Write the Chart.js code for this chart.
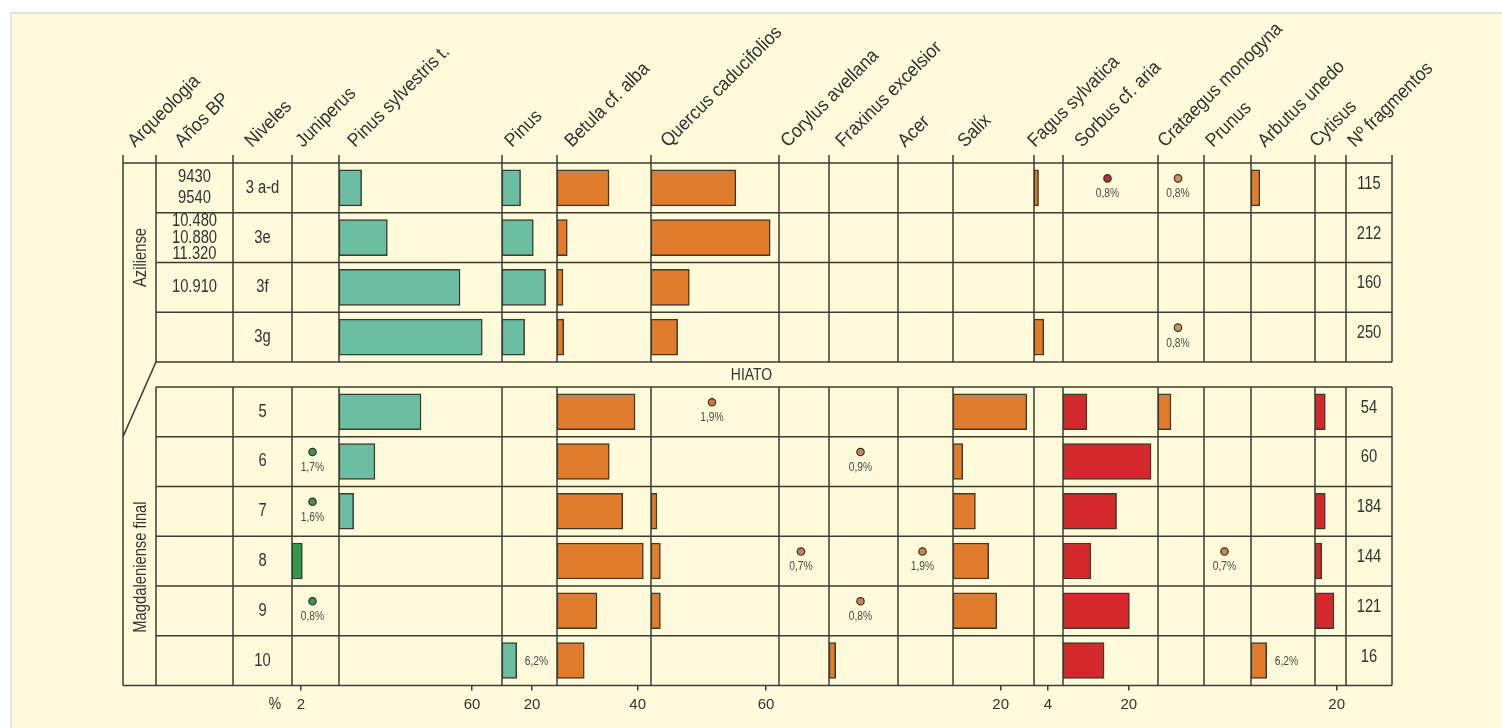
<!DOCTYPE html>
<html>
<head>
<meta charset="utf-8">
<script src="https://cdn.jsdelivr.net/npm/chart.js@4.4.0/dist/chart.umd.min.js"></script>
<style>
  html, body { margin: 0; padding: 0; background: #fff; }
  #wrap { position: relative; width: 1502px; height: 728px; overflow: hidden; }
  #paper { position: absolute; left: 10px; top: 12px; right: 0; bottom: 0; background: #fffad9;
           border-top: 2px solid #e3e3e3; border-left: 2px solid #e6e6e6; }
  canvas { position: absolute; left: 0; top: 0; }
</style>
</head>
<body>
<div id="wrap"><div id="paper"></div><canvas id="diagram" width="1502" height="728"></canvas></div>
<script>
// Levels (rows) and the text columns of the table
const levels = ['3 a-d', '3e', '3f', '3g', '5', '6', '7', '8', '9', '10'];
const agesBP = [['9430', '9540'], ['10.480', '10.880', '11.320'], ['10.910'], [], [], [], [], [], [], []];
const fragments = [115, 212, 160, 250, 54, 60, 184, 144, 121, 16];
const periods = ['Aziliense', 'Magdaleniense final'];
const periodLevels = [4, 6];   // number of levels in each period

// % of fragments per taxon (null = absent); *Trace = values shown as a dot
const juniperus       = [null, null, null, null, null, null, null, 2.3, null, null];
const juniperusTrace  = [null, null, null, null, null, 1.7, 1.6, null, 0.8, null];
const pinusSylvestris = [10.2, 21.8, 54.6, 64.6, 37.0, 16.2, 6.6, null, null, null];
const pinus           = [12.4, 20.9, 29.1, 15.1, null, null, null, null, null, 9.8];
const betula          = [25.8, 5.1, 3.0, 3.3, 38.7, 25.9, 32.6, 42.8, 19.8, 13.5];
const quercus         = [44.3, 62.2, 20.0, 13.9, null, null, 3.1, 4.9, 4.9, null];
const quercusTrace    = [null, null, null, null, 1.9, null, null, null, null, null];
const corylusTrace    = [null, null, null, null, null, null, null, 0.7, null, null];
const fraxinus        = [null, null, null, null, null, null, null, null, null, 6.2];
const fraxinusTrace   = [null, null, null, null, null, 0.9, null, null, 0.8, null];
const acerTrace       = [null, null, null, null, null, null, null, 1.9, null, null];
const salix           = [null, null, null, null, 31.0, 4.1, 9.4, 15.0, 18.4, null];
const fagus           = [1.3, null, null, 2.8, null, null, null, null, null, null];
const sorbus          = [null, null, null, null, 7.3, 26.8, 16.3, 8.5, 20.2, 12.5];
const sorbusTrace     = [0.8, null, null, null, null, null, null, null, null, null];
const crataegus       = [null, null, null, null, 3.7, null, null, null, null, null];
const crataegusTrace  = [0.8, null, null, 0.8, null, null, null, null, null, null];
const prunusTrace     = [null, null, null, null, null, null, null, 0.7, null, null];
const arbutus         = [3.5, null, null, null, null, null, null, null, null, 6.2];
const cytisus         = [null, null, null, null, 9.5, null, 9.5, 6.2, 17.5, null];
// values written beside a bar
const pinusNote   = [null, null, null, null, null, null, null, null, null, '6,2%'];
const arbutusNote = [null, null, null, null, null, null, null, null, null, '6,2%'];

// one tick label under each scaled column
const tickLabels = { jun: 2, psy: 60, pin: 20, bet: 40, que: 60, sal: 20, fag: 4, sor: 20, cyt: 20 };

// colours
const TEAL = '#6cbea2', GREEN = '#2f9a4e', ORANGE = '#e07c2b', RED = '#d3292c';
const LINE = '#3c3c38', TEXT = '#333333', EDGE = '#3f3a30';
const FONT = '"Liberation Sans", Arial, sans-serif';
const SQUEEZE = 0.82;

// table columns: width in px, header offset, axis range
const layout = [
  { id: 'arq',  head: 'Arqueologia',          w: 33,  dx: 12 },
  { id: 'bp',   head: 'Años BP',              w: 77,  dx: 26 },
  { id: 'niv',  head: 'Niveles',              w: 59,  dx: 19 },
  { id: 'jun',  head: 'Juniperus',            w: 47,  dx: 11, max: 10.45 },
  { id: 'psy',  head: 'Pinus sylvestris t.',  w: 163, dx: 16, max: 73.5 },
  { id: 'pin',  head: 'Pinus',                w: 55,  dx: 10, max: 36.7 },
  { id: 'bet',  head: 'Betula cf. alba',      w: 94,  dx: 15, max: 46.6 },
  { id: 'que',  head: 'Quercus caducifolios', w: 128, dx: 17, max: 66.8 },
  { id: 'cor',  head: 'Corylus avellana',     w: 50,  dx: 9,  max: 50 },
  { id: 'fra',  head: 'Fraxinus excelsior',   w: 69,  dx: 14, max: 64 },
  { id: 'ace',  head: 'Acer',                 w: 55,  dx: 7,  max: 50 },
  { id: 'sal',  head: 'Salix',                w: 81,  dx: 12, max: 34 },
  { id: 'fag',  head: 'Fagus sylvatica',      w: 29,  dx: 1,  max: 8.3 },
  { id: 'sor',  head: 'Sorbus cf. aria',      w: 95,  dx: 19, max: 28.9 },
  { id: 'cra',  head: 'Crataegus monogyna',   w: 46,  dx: 7,  max: 13.1 },
  { id: 'pru',  head: 'Prunus',               w: 47,  dx: 9,  max: 50 },
  { id: 'arb',  head: 'Arbutus unedo',        w: 64,  dx: 14, max: 25.3 },
  { id: 'cyt',  head: 'Cytisus',              w: 31,  dx: 2,  max: 28.6 },
  { id: 'frag', head: 'Nº fragmentos',        w: 46,  dx: 9 }
];

const taxa = [
  { col: 'jun', bars: juniperus, trace: juniperusTrace, color: GREEN, dot: '#3f8d5d' },
  { col: 'psy', bars: pinusSylvestris, color: TEAL },
  { col: 'pin', bars: pinus, note: pinusNote, color: TEAL },
  { col: 'bet', bars: betula, color: ORANGE },
  { col: 'que', bars: quercus, trace: quercusTrace, color: ORANGE, dot: '#c47a45' },
  { col: 'cor', trace: corylusTrace, dot: '#c98552' },
  { col: 'fra', bars: fraxinus, trace: fraxinusTrace, color: ORANGE, dot: '#c98552' },
  { col: 'ace', trace: acerTrace, dot: '#c98552' },
  { col: 'sal', bars: salix, color: ORANGE },
  { col: 'fag', bars: fagus, color: ORANGE },
  { col: 'sor', bars: sorbus, trace: sorbusTrace, color: RED, dot: '#a8353a' },
  { col: 'cra', bars: crataegus, trace: crataegusTrace, color: ORANGE, dot: '#c9955e' },
  { col: 'pru', trace: prunusTrace, dot: '#c98552' },
  { col: 'arb', bars: arbutus, note: arbutusNote, color: ORANGE },
  { col: 'cyt', bars: cytisus, color: RED }
];

// row positions on the y axis, with a half-row gap (HIATO) between periods
const UPPER = periodLevels[0], GAP = 0.5;
const levelPos = levels.map((l, i) => i < UPPER ? i + 0.5 : i + 0.5 + GAP);

function drawText(ctx, text, x, y, size, opts) {
  opts = opts || {};
  ctx.save();
  ctx.translate(x, y);
  if (opts.rotate) ctx.rotate(opts.rotate);
  ctx.scale(opts.squeeze || SQUEEZE, 1);
  ctx.font = size + 'px ' + FONT;
  ctx.fillStyle = opts.color || TEXT;
  ctx.textAlign = opts.align || 'center';
  ctx.textBaseline = opts.baseline || 'middle';
  ctx.fillText(text, 0, 0);
  ctx.restore();
}

const pct = v => String(v).replace('.', ',') + '%';

const tablePlugin = {
  id: 'table',
  beforeDatasetsDraw(chart) {
    const ctx = chart.ctx, ys = chart.scales.y;
    const xs = layout.map(c => chart.scales[c.id]);
    const bounds = xs.map(s => s.left).concat(xs[xs.length - 1].right);
    const x0 = bounds[0], x1 = bounds[1], xEnd = bounds[bounds.length - 1];
    const top = ys.getPixelForValue(0), bottom = ys.getPixelForValue(ys.max);
    const gapTop = ys.getPixelForValue(UPPER), gapBottom = ys.getPixelForValue(UPPER + GAP);

    ctx.save();
    ctx.strokeStyle = LINE;
    ctx.lineWidth = 1.5;
    ctx.beginPath();
    bounds.forEach((x, i) => {
      ctx.moveTo(x, top - 8);
      if (i === 0) { ctx.lineTo(x, bottom); return; }
      ctx.lineTo(x, gapTop);
      ctx.moveTo(x, gapBottom);
      ctx.lineTo(x, bottom);
    });
    // slanted limit between the two periods
    ctx.moveTo(x1, gapTop);
    ctx.lineTo(x0, ys.getPixelForValue(UPPER + GAP + 1));
    const rows = [];
    for (let v = 0; v <= UPPER; v++) rows.push(v);
    for (let v = UPPER + GAP; v <= ys.max + 1e-6; v++) rows.push(v);
    rows.forEach(v => {
      const yy = ys.getPixelForValue(v);
      ctx.moveTo(v === 0 || v === ys.max ? x0 : x1, yy);
      ctx.lineTo(xEnd, yy);
    });
    ctx.stroke();
    ctx.restore();
  },
  afterDatasetsDraw(chart) {
    const ctx = chart.ctx, ys = chart.scales.y;
    const sc = id => chart.scales[id];
    const mid = s => (s.left + s.right) / 2;
    const rowY = i => ys.getPixelForValue(levelPos[i]);
    const top = ys.getPixelForValue(0), bottom = ys.getPixelForValue(ys.max);

    // rotated column headers
    layout.forEach(c => {
      drawText(ctx, c.head, sc(c.id).left + c.dx, top - 15, 19,
        { rotate: -Math.PI / 4, align: 'left', baseline: 'alphabetic', squeeze: 0.92 });
    });

    // archaeological periods
    const arqX = mid(sc('arq')) + 2;
    drawText(ctx, periods[0], arqX, (top + ys.getPixelForValue(UPPER)) / 2 - 5, 18, { rotate: -Math.PI / 2 });
    drawText(ctx, periods[1], arqX, (ys.getPixelForValue(UPPER + GAP + 1) + bottom) / 2 + 6, 18, { rotate: -Math.PI / 2 });

    // dates, levels, fragment counts
    levels.forEach((lv, i) => {
      const y = rowY(i);
      const ages = agesBP[i];
      const step = ages.length > 2 ? 16.5 : 21;
      ages.forEach((a, k) => drawText(ctx, a, mid(sc('bp')), y + (k - (ages.length - 1) / 2) * step, 18));
      drawText(ctx, lv, mid(sc('niv')), y, 18);
      drawText(ctx, String(fragments[i]), mid(sc('frag')), y - 4, 18);
    });

    drawText(ctx, 'HIATO', (chart.chartArea.left + chart.chartArea.right) / 2 - 6,
      ys.getPixelForValue(UPPER + GAP / 2) + 1, 17);
    drawText(ctx, '%', sc('jun').left - 17, bottom + 19, 17);

    // low values shown as dots
    taxa.forEach(t => {
      if (!t.trace) return;
      const s = sc(t.col);
      t.trace.forEach((v, i) => {
        if (v == null) return;
        const x = mid(s) - 3, y = rowY(i);
        ctx.save();
        ctx.beginPath();
        ctx.arc(x, y - 9.5, 3.7, 0, Math.PI * 2);
        ctx.fillStyle = t.dot;
        ctx.fill();
        ctx.lineWidth = 1.2;
        ctx.strokeStyle = '#3a2e28';
        ctx.stroke();
        ctx.restore();
        drawText(ctx, pct(v), x, y + 6, 12.5, { color: '#4a4a4a' });
      });
    });

    // values written beside bars
    taxa.forEach(t => {
      if (!t.note) return;
      const s = sc(t.col);
      t.note.forEach((n, i) => {
        if (!n) return;
        drawText(ctx, n, s.getPixelForValue(t.bars[i]) + 8, rowY(i) + 1, 12.5, { align: 'left', color: '#4a4a4a' });
      });
    });
  }
};

const scales = {
  y: { type: 'linear', reverse: true, offset: false, min: 0, max: levelPos[levelPos.length - 1] + 0.5, display: false }
};
layout.forEach(c => {
  const tick = tickLabels[c.id];
  const show = tick !== undefined;
  scales[c.id] = {
    type: 'linear', axis: 'x', position: 'bottom',
    stack: 'columns', stackWeight: c.w,
    offset: false,
    min: 0, max: c.max || 1,
    afterBuildTicks: s => { s.ticks = show ? [{ value: tick }] : []; },
    grid: { display: show, drawOnChartArea: false, tickLength: 5, color: LINE, lineWidth: 1.5 },
    border: { display: false },
    ticks: { display: show, autoSkip: false, maxRotation: 0, padding: 5, color: TEXT, font: { family: FONT, size: 15 } }
  };
});

const datasets = taxa.filter(t => t.bars).map(t => ({
  type: 'bar',
  label: layout.find(c => c.id === t.col).head,
  xAxisID: t.col,
  yAxisID: 'y',
  data: t.bars.map((v, i) => v == null ? null : { x: v, y: levelPos[i] }).filter(Boolean),
  backgroundColor: t.color,
  borderColor: EDGE,
  borderWidth: 1.5,
  borderSkipped: false,
  barThickness: 36,
  grouped: false
}));

new Chart(document.getElementById('diagram'), {
  type: 'bar',
  data: { datasets: datasets },
  options: {
    indexAxis: 'y',
    responsive: false,
    animation: false,
    events: [],
    devicePixelRatio: 1,
    layout: { padding: { left: 123, right: 110, top: 163, bottom: 14 } },
    plugins: { legend: { display: false }, tooltip: { enabled: false } },
    scales: scales
  },
  plugins: [tablePlugin]
});
</script>
</body>
</html>
